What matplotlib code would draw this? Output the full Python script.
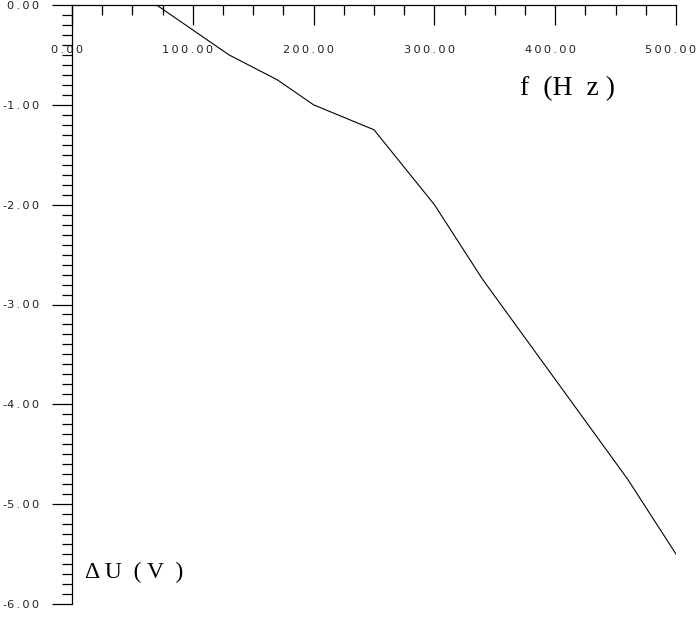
import matplotlib
matplotlib.use('Agg')
import matplotlib.pyplot as plt
from matplotlib.ticker import MultipleLocator, FuncFormatter
from matplotlib.transforms import ScaledTranslation

# frequency (Hz) and voltage change (V)
freq = [70, 130, 170, 200, 250, 300, 340, 400, 460, 500]
du = [0.0, -0.50, -0.75, -1.00, -1.25, -2.00, -2.75, -3.75, -4.75, -5.50]

x_label = 'f  (H  z )'
y_label = '\u0394 U  ( V  )'

tick_font = ['DejaVu Sans']
label_font = ['Liberation Serif', 'DejaVu Serif']

def spaced(v, pos):
    # thin spaces between characters, like the plotter font
    s = f'{abs(v):.2f}'
    sign = '-' if v < 0 else ''
    return sign + '\u2009'.join(s)

fig = plt.figure(figsize=(6.99, 6.2), dpi=100)
ax = fig.add_axes([72 / 699, 16 / 620, 604 / 699, 599 / 620])

ax.plot(freq, du, color='black', lw=0.8)

ax.set_xlim(0, 500)
ax.set_ylim(-6, 0)

for side in ['right', 'bottom']:
    ax.spines[side].set_visible(False)
for side in ['left', 'top']:
    ax.spines[side].set_linewidth(0.9)

ax.xaxis.set_major_locator(MultipleLocator(100))
ax.xaxis.set_minor_locator(MultipleLocator(25))
ax.yaxis.set_major_locator(MultipleLocator(1))
ax.yaxis.set_minor_locator(MultipleLocator(0.1))
ax.xaxis.set_major_formatter(FuncFormatter(spaced))
ax.yaxis.set_major_formatter(FuncFormatter(spaced))

ax.tick_params(axis='x', which='both', top=True, bottom=False, labeltop=True,
               labelbottom=False, direction='in', width=0.9)
ax.tick_params(axis='x', which='major', length=14.4, pad=-36, labelsize=8.2)
ax.tick_params(axis='x', which='minor', length=7.2)
ax.tick_params(axis='y', which='both', left=True, right=False, direction='out', width=0.9)
ax.tick_params(axis='y', which='major', length=14.4, pad=9, labelsize=8.2)
ax.tick_params(axis='y', which='minor', length=7.2)

# x labels sit a little left of their ticks in the original
shift = ScaledTranslation(-0.05, 0, fig.dpi_scale_trans)
for lab in ax.get_xticklabels():
    lab.set_transform(lab.get_transform() + shift)
for lab in ax.get_xticklabels() + ax.get_yticklabels():
    lab.set_family(tick_font)
    lab.set_color('#222222')

ax.text(0.82, 0.861, x_label, transform=ax.transAxes, ha='center', va='center',
        fontsize=20, family=label_font)
ax.text(0.103, 0.052, y_label, transform=ax.transAxes, ha='center', va='center',
        fontsize=17, family=label_font)

fig.savefig('out.png', dpi=100)
